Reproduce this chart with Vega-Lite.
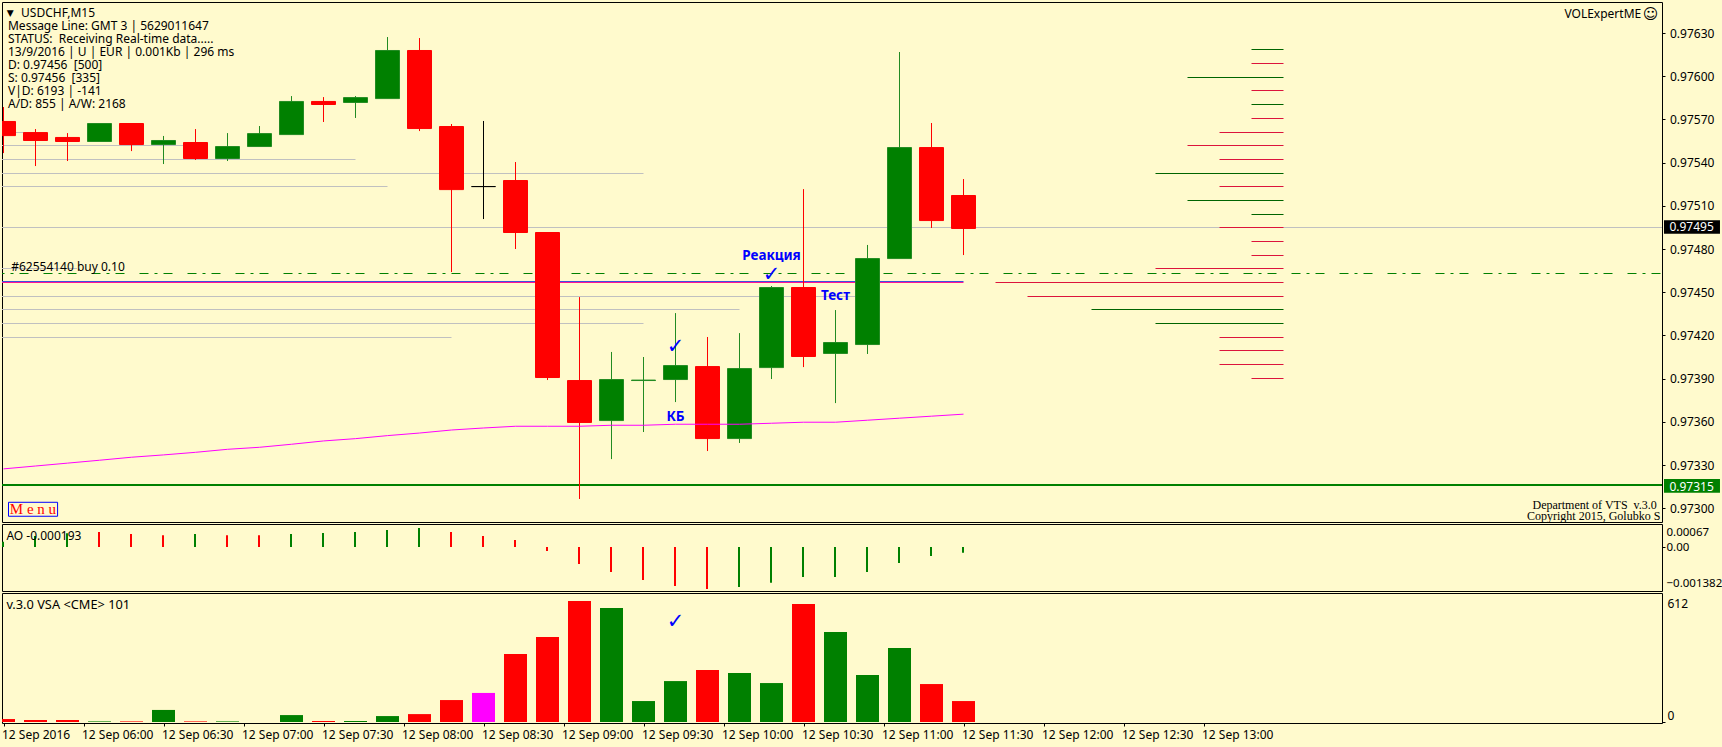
{"$schema":"https://vega.github.io/schema/vega-lite/v6.json","background":"#FFFACD","padding":{"left":1,"top":1,"right":1,"bottom":6},"spacing":0,"resolve":{"scale":{"color":"independent","fill":"independent","stroke":"independent"}},"config":{"view":{"stroke":"#000000","strokeWidth":1},"axis":{"grid":false,"domain":false,"tickColor":"#000000","tickSize":3,"labelFont":"Noto Sans","labelFontSize":12,"labelColor":"#000000","labelOverlap":false,"labelBound":false,"labelFlush":false,"title":null},"text":{"font":"Noto Sans","fontSize":12,"align":"left","baseline":"middle","color":"#000000"}},
"datasets":{
"candles":[
{"bar":0,"open":0.975689,"high":0.975786,"low":0.975466,"close":0.975591,"dir":"down"},
{"bar":1,"open":0.975612,"high":0.975633,"low":0.975376,"close":0.975557,"dir":"down"},
{"bar":2,"open":0.975578,"high":0.975605,"low":0.975411,"close":0.97555,"dir":"down"},
{"bar":3,"open":0.97555,"high":0.975675,"low":0.97555,"close":0.975675,"dir":"up"},
{"bar":4,"open":0.975675,"high":0.975675,"low":0.97548,"close":0.975529,"dir":"down"},
{"bar":5,"open":0.975529,"high":0.975585,"low":0.97539,"close":0.975557,"dir":"up"},
{"bar":6,"open":0.975543,"high":0.975633,"low":0.975418,"close":0.975432,"dir":"down"},
{"bar":7,"open":0.975432,"high":0.975605,"low":0.975411,"close":0.975515,"dir":"up"},
{"bar":8,"open":0.975515,"high":0.975654,"low":0.975515,"close":0.975605,"dir":"up"},
{"bar":9,"open":0.975598,"high":0.975862,"low":0.975598,"close":0.975828,"dir":"up"},
{"bar":10,"open":0.975828,"high":0.975855,"low":0.975682,"close":0.975807,"dir":"down"},
{"bar":11,"open":0.975821,"high":0.975862,"low":0.97571,"close":0.975855,"dir":"up"},
{"bar":12,"open":0.975848,"high":0.976272,"low":0.975848,"close":0.976182,"dir":"up"},
{"bar":13,"open":0.976182,"high":0.976265,"low":0.975619,"close":0.97564,"dir":"down"},
{"bar":14,"open":0.975654,"high":0.975668,"low":0.97464,"close":0.975216,"dir":"down"},
{"bar":15,"open":0.975237,"high":0.975689,"low":0.975008,"close":0.975237,"dir":"doji"},
{"bar":16,"open":0.975279,"high":0.975404,"low":0.9748,"close":0.974918,"dir":"down"},
{"bar":17,"open":0.974918,"high":0.974918,"low":0.97389,"close":0.973911,"dir":"down"},
{"bar":18,"open":0.97389,"high":0.974466,"low":0.973064,"close":0.973599,"dir":"down"},
{"bar":19,"open":0.973612,"high":0.974085,"low":0.973341,"close":0.973897,"dir":"up"},
{"bar":20,"open":0.97389,"high":0.97405,"low":0.973529,"close":0.973893,"dir":"up"},
{"bar":21,"open":0.973897,"high":0.974355,"low":0.973737,"close":0.973994,"dir":"up"},
{"bar":22,"open":0.973987,"high":0.974189,"low":0.973397,"close":0.973487,"dir":"down"},
{"bar":23,"open":0.973487,"high":0.974216,"low":0.973453,"close":0.973973,"dir":"up"},
{"bar":24,"open":0.97398,"high":0.974543,"low":0.973897,"close":0.974536,"dir":"up"},
{"bar":25,"open":0.974536,"high":0.975216,"low":0.97398,"close":0.974057,"dir":"down"},
{"bar":26,"open":0.974078,"high":0.974376,"low":0.97373,"close":0.974154,"dir":"up"},
{"bar":27,"open":0.97414,"high":0.974828,"low":0.974071,"close":0.974737,"dir":"up"},
{"bar":28,"open":0.974737,"high":0.976168,"low":0.974737,"close":0.975508,"dir":"up"},
{"bar":29,"open":0.975508,"high":0.975675,"low":0.974946,"close":0.975001,"dir":"down"},
{"bar":30,"open":0.975175,"high":0.975286,"low":0.974758,"close":0.974946,"dir":"down"}],
"ma":[{"bar":0,"price":0.973273},{"bar":1,"price":0.973293},{"bar":2,"price":0.973313},{"bar":3,"price":0.973333},{"bar":4,"price":0.973354},{"bar":5,"price":0.97337},{"bar":6,"price":0.973388},{"bar":7,"price":0.973409},{"bar":8,"price":0.973423},{"bar":9,"price":0.973444},{"bar":10,"price":0.973467},{"bar":11,"price":0.973483},{"bar":12,"price":0.973504},{"bar":13,"price":0.973522},{"bar":14,"price":0.973543},{"bar":15,"price":0.973557},{"bar":16,"price":0.973569},{"bar":17,"price":0.973569},{"bar":18,"price":0.973569},{"bar":19,"price":0.973576},{"bar":20,"price":0.973576},{"bar":21,"price":0.973583},{"bar":22,"price":0.973583},{"bar":23,"price":0.973583},{"bar":24,"price":0.97359},{"bar":25,"price":0.973597},{"bar":26,"price":0.973597},{"bar":27,"price":0.973611},{"bar":28,"price":0.973625},{"bar":29,"price":0.973639},{"bar":30,"price":0.973653}],
"grey":[{"price":0.97560902,"bar":-1,"end":1},{"price":0.97551875,"bar":-1,"end":6},{"price":0.97542152,"bar":-1,"end":11},{"price":0.9753243,"bar":-1,"end":20},{"price":0.97523402,"bar":-1,"end":12},{"price":0.9749493,"bar":-1,"end":60},{"price":0.97466458,"bar":-1,"end":2.3},{"price":0.97447013,"bar":-1,"end":27},{"price":0.97437986,"bar":-1,"end":23},{"price":0.97428263,"bar":-1,"end":20},{"price":0.97418541,"bar":-1,"end":14}],
"profile":[
{"price":0.97618541,"bar":39,"end":40,"side":"buy"},{"price":0.97608819,"bar":39,"end":40,"side":"sell"},{"price":0.97599097,"bar":37,"end":40,"side":"buy"},{"price":0.97590069,"bar":39,"end":40,"side":"sell"},{"price":0.97580347,"bar":39,"end":40,"side":"buy"},{"price":0.97570625,"bar":39,"end":40,"side":"sell"},{"price":0.97560902,"bar":38,"end":40,"side":"sell"},{"price":0.97551875,"bar":37,"end":40,"side":"sell"},{"price":0.97542152,"bar":38,"end":40,"side":"sell"},{"price":0.9753243,"bar":36,"end":40,"side":"buy"},{"price":0.97523402,"bar":38,"end":40,"side":"sell"},{"price":0.9751368,"bar":37,"end":40,"side":"buy"},{"price":0.97503958,"bar":39,"end":40,"side":"buy"},{"price":0.9749493,"bar":38,"end":40,"side":"sell"},{"price":0.97485208,"bar":39,"end":40,"side":"sell"},{"price":0.97475486,"bar":39,"end":40,"side":"sell"},{"price":0.97466458,"bar":36,"end":40,"side":"sell"},{"price":0.97456736,"bar":31,"end":40,"side":"sell"},{"price":0.97447013,"bar":32,"end":40,"side":"sell"},{"price":0.97437986,"bar":34,"end":40,"side":"buy"},{"price":0.97428263,"bar":36,"end":40,"side":"buy"},{"price":0.97418541,"bar":38,"end":40,"side":"sell"},{"price":0.97409513,"bar":38,"end":40,"side":"sell"},{"price":0.97399791,"bar":38,"end":40,"side":"sell"},{"price":0.97390069,"bar":39,"end":40,"side":"sell"}],
"header":[{"bar":0.55,"price":0.976441,"label":"USDCHF,M15"},{"bar":0.14,"price":0.976351,"label":"Message Line: GMT 3 | 5629011647"},{"bar":0.14,"price":0.97626,"label":"STATUS:\u00a0 Receiving Real-time data....."},{"bar":0.14,"price":0.97617,"label":"13/9/2016 | U | EUR | 0.001Kb | 296 ms"},{"bar":0.14,"price":0.97608,"label":"D: 0.97456\u00a0 [500]"},{"bar":0.14,"price":0.97599,"label":"S: 0.97456\u00a0 [335]"},{"bar":0.14,"price":0.9759,"label":"V|D: 6193 | -141"},{"bar":0.14,"price":0.97581,"label":"A/D: 855 | A/W: 2168"},{"bar":0.24,"price":0.974677,"label":"#62554140 buy 0.10"},{"bar":48.78,"price":0.976434,"label":"VOLExpertME"}],
"tagText":[{"bar":52.06,"price":0.97495,"label":"0.97495"},{"bar":52.06,"price":0.97315,"label":"0.97315"}],
"notes":[{"bar":24,"price":0.974751,"label":"Реакция"},{"bar":26,"price":0.974473,"label":"Тест"},{"bar":21,"price":0.973635,"label":"КБ"}],
"ao":[{"bar":0,"value":0.000175,"dir":"up"},{"bar":1,"value":0.00036,"dir":"up"},{"bar":2,"value":0.00045,"dir":"up"},{"bar":3,"value":0.00049,"dir":"down"},{"bar":4,"value":0.00043,"dir":"down"},{"bar":5,"value":0.00039,"dir":"down"},{"bar":6,"value":0.00043,"dir":"up"},{"bar":7,"value":0.00039,"dir":"down"},{"bar":8,"value":0.00039,"dir":"down"},{"bar":9,"value":0.00043,"dir":"up"},{"bar":10,"value":0.00046,"dir":"up"},{"bar":11,"value":0.00049,"dir":"up"},{"bar":12,"value":0.00056,"dir":"up"},{"bar":13,"value":0.000625,"dir":"up"},{"bar":14,"value":0.00049,"dir":"down"},{"bar":15,"value":0.00036,"dir":"down"},{"bar":16,"value":0.00023,"dir":"down"},{"bar":17,"value":-0.00013,"dir":"down"},{"bar":18,"value":-0.00056,"dir":"down"},{"bar":19,"value":-0.00082,"dir":"down"},{"bar":20,"value":-0.00109,"dir":"down"},{"bar":21,"value":-0.00128,"dir":"down"},{"bar":22,"value":-0.00138,"dir":"down"},{"bar":23,"value":-0.00132,"dir":"up"},{"bar":24,"value":-0.00118,"dir":"up"},{"bar":25,"value":-0.00099,"dir":"up"},{"bar":26,"value":-0.00099,"dir":"up"},{"bar":27,"value":-0.00082,"dir":"up"},{"bar":28,"value":-0.00053,"dir":"up"},{"bar":29,"value":-0.0003,"dir":"up"},{"bar":30,"value":-0.000193,"dir":"up"}],
"vsa":[{"bar":0,"value":15,"kind":"down"},{"bar":1,"value":10,"kind":"down"},{"bar":2,"value":10,"kind":"down"},{"bar":3,"value":3,"kind":"up"},{"bar":4,"value":3,"kind":"down"},{"bar":5,"value":61,"kind":"up"},{"bar":6,"value":3,"kind":"down"},{"bar":7,"value":3,"kind":"up"},{"bar":9,"value":35,"kind":"up"},{"bar":10,"value":5,"kind":"down"},{"bar":11,"value":5,"kind":"up"},{"bar":12,"value":30,"kind":"up"},{"bar":13,"value":40,"kind":"down"},{"bar":14,"value":111,"kind":"down"},{"bar":15,"value":147,"kind":"climax"},{"bar":16,"value":344,"kind":"down"},{"bar":17,"value":430,"kind":"down"},{"bar":18,"value":612,"kind":"down"},{"bar":19,"value":577,"kind":"up"},{"bar":20,"value":106,"kind":"up"},{"bar":21,"value":207,"kind":"up"},{"bar":22,"value":263,"kind":"down"},{"bar":23,"value":248,"kind":"up"},{"bar":24,"value":197,"kind":"up"},{"bar":25,"value":597,"kind":"down"},{"bar":26,"value":455,"kind":"up"},{"bar":27,"value":238,"kind":"up"},{"bar":28,"value":374,"kind":"up"},{"bar":29,"value":192,"kind":"down"},{"bar":30,"value":106,"kind":"down"}]
},
"vconcat":[
{"width":1660,"height":520,
"encoding":{"x":{"field":"bar","type":"quantitative","scale":{"domain":[-0.046875,51.828125],"zero":false,"nice":false,"padding":0},"axis":null},
"y":{"field":"price","type":"quantitative","scale":{"domain":[0.97290417,0.97651528],"zero":false,"nice":false},"axis":{"orient":"right","values":[0.9763,0.976,0.9757,0.9754,0.9751,0.9748,0.9745,0.9742,0.9739,0.9736,0.9733,0.973],"format":".5f","labelPadding":4.5}}},
"layer":[
{"data":{"name":"grey"},"mark":{"type":"rule","color":"#C0C0C0","strokeWidth":1,"clip":true},"encoding":{"x2":{"field":"end"}}},
{"data":{"name":"profile"},"mark":{"type":"rule","strokeWidth":1,"clip":true},"encoding":{"x2":{"field":"end"},"color":{"field":"side","type":"nominal","legend":null,"scale":{"domain":["buy","sell"],"range":["#006400","#DC143C"]}}}},
{"data":{"values":[{"price":0.9745743,"bar":-1,"end":30}]},"mark":{"type":"rule","color":"#3C50DC","strokeWidth":1,"clip":true},"encoding":{"x2":{"field":"end"}}},
{"data":{"values":[{"price":0.97456736,"bar":-1,"end":30}]},"mark":{"type":"rule","color":"#FF1493","strokeWidth":1,"clip":true},"encoding":{"x2":{"field":"end"}}},
{"data":{"values":[{"price":0.97462986,"bar":-1,"end":60}]},"mark":{"type":"rule","color":"#008000","strokeWidth":1,"strokeDash":[9,15,9,6,3,6],"clip":true},"encoding":{"x2":{"field":"end"}}},
{"data":{"values":[{"price":0.97316111,"bar":-1,"end":60}]},"mark":{"type":"rule","color":"#008000","strokeWidth":2,"clip":true},"encoding":{"x2":{"field":"end"}}},
{"data":{"name":"candles"},"mark":{"type":"rule","strokeWidth":1,"clip":true},"encoding":{"y":{"field":"high","type":"quantitative","title":null,"axis":{"orient":"right","values":[0.9763,0.976,0.9757,0.9754,0.9751,0.9748,0.9745,0.9742,0.9739,0.9736,0.9733,0.973],"format":".5f","labelPadding":4.5}},"y2":{"field":"low"},"stroke":{"field":"dir","type":"nominal","legend":null,"scale":{"domain":["up","down","doji"],"range":["#228B22","#FF0000","#000000"]}}}},
{"data":{"name":"candles"},"mark":{"type":"bar","width":24,"strokeWidth":1,"clip":true,"orient":"vertical","yOffset":0.5,"y2Offset":0.5},"encoding":{"y":{"field":"open","type":"quantitative","title":null,"stack":null,"axis":{"orient":"right","values":[0.9763,0.976,0.9757,0.9754,0.9751,0.9748,0.9745,0.9742,0.9739,0.9736,0.9733,0.973],"format":".5f","labelPadding":4.5}},"y2":{"field":"close"},"fill":{"field":"dir","type":"nominal","legend":null,"scale":{"domain":["up","down","doji"],"range":["#008000","#FF0000","#000000"]}},"stroke":{"field":"dir","type":"nominal","legend":null}}},
{"data":{"name":"ma"},"mark":{"type":"line","color":"#FF00FF","strokeWidth":1,"clip":true}},
{"data":{"name":"header"},"mark":{"type":"text"},"encoding":{"text":{"field":"label"}}},
{"data":{"values":[{"bar":0.1,"price":0.976441,"label":"▼"}]},"mark":{"type":"text","font":"DejaVu Sans","fontSize":9},"encoding":{"text":{"field":"label"}}},
{"data":{"values":[{"bar":51.47,"price":0.976434,"label":"☺"}]},"mark":{"type":"text","font":"DejaVu Sans","fontSize":15,"align":"center"},"encoding":{"text":{"field":"label"}}},
{"data":{"name":"notes"},"mark":{"type":"text","fontWeight":"bold","fontSize":13.5,"color":"#0000FF","align":"center"},"encoding":{"text":{"field":"label"}}},
{"data":{"values":[{"bar":21,"price":0.974121,"label":"✓"},{"bar":24,"price":0.974619,"label":"✓"}]},"mark":{"type":"text","font":"DejaVu Sans","fontWeight":"bold","fontSize":21,"color":"#0000FF","align":"center"},"encoding":{"text":{"field":"label"}}},
{"data":{"values":[{"bar":47.78,"price":0.973022,"label":"Department of VTS\u00a0 v.3.0"},{"bar":47.61,"price":0.972948,"label":"Copyright 2015, Golubko S"}]},"mark":{"type":"text","font":"Liberation Serif","fontSize":12,"clip":true},"encoding":{"text":{"field":"label"}}},
{"data":{"values":[{"bar":0.156,"end":1.69,"top":0.973041,"bottom":0.972944}]},"mark":{"type":"rect","filled":false,"stroke":"#0000FF","strokeWidth":1},"encoding":{"x2":{"field":"end"},"y":{"field":"top","type":"quantitative","title":null,"axis":{"orient":"right","values":[0.9763,0.976,0.9757,0.9754,0.9751,0.9748,0.9745,0.9742,0.9739,0.9736,0.9733,0.973],"format":".5f","labelPadding":4.5}},"y2":{"field":"bottom"}}},
{"data":{"values":[{"bar":0.92,"price":0.972994,"label":"M e n u"}]},"mark":{"type":"text","font":"Liberation Serif","fontSize":15,"color":"#FF0000","align":"center"},"encoding":{"text":{"field":"label"}}},
{"data":{"values":[{"bar":51.89,"end":53.64,"top":0.974999,"bottom":0.974906}]},"mark":{"type":"rect","color":"#000000"},"encoding":{"x2":{"field":"end"},"y":{"field":"top","type":"quantitative","title":null,"axis":{"orient":"right","values":[0.9763,0.976,0.9757,0.9754,0.9751,0.9748,0.9745,0.9742,0.9739,0.9736,0.9733,0.973],"format":".5f","labelPadding":4.5}},"y2":{"field":"bottom"}}},
{"data":{"values":[{"bar":51.89,"end":53.64,"top":0.973203,"bottom":0.973108}]},"mark":{"type":"rect","color":"#008000"},"encoding":{"x2":{"field":"end"},"y":{"field":"top","type":"quantitative","title":null,"axis":{"orient":"right","values":[0.9763,0.976,0.9757,0.9754,0.9751,0.9748,0.9745,0.9742,0.9739,0.9736,0.9733,0.973],"format":".5f","labelPadding":4.5}},"y2":{"field":"bottom"}}},
{"data":{"name":"tagText"},"mark":{"type":"text","color":"#FFFFFF"},"encoding":{"text":{"field":"label"}}}
]},
{"width":1660,"height":67,
"encoding":{"x":{"field":"bar","type":"quantitative","scale":{"domain":[-0.046875,51.828125],"zero":false,"nice":false,"padding":0},"axis":null},
"y":{"field":"value","type":"quantitative","scale":{"domain":[-0.001448,0.000757],"zero":false,"nice":false},"axis":{"orient":"right","values":[0.00067,0,-0.001382],"labelPadding":1,"labelFontSize":11.5,"labelExpr":"datum.value==0?'0.00':format(datum.value,datum.value>0?'.5f':'.6f')","labelOffset":{"condition":[{"test":"datum.value>0","value":6},{"test":"datum.value<0","value":-5}],"value":0},"tickOpacity":{"condition":{"test":"datum.value==0","value":1},"value":0}}}},
"layer":[
{"data":{"name":"ao"},"mark":{"type":"rule","strokeWidth":2,"xOffset":-0.5},"encoding":{"y2":{"datum":0},"color":{"field":"dir","type":"nominal","legend":null,"scale":{"domain":["up","down"],"range":["#008000","#FF0000"]}}}},
{"data":{"values":[{"bar":0.09,"value":0.000372,"label":"AO -0.000193"}]},"mark":{"type":"text"},"encoding":{"text":{"field":"label"}}}
]},
{"width":1660,"height":130,
"encoding":{"x":{"field":"bar","type":"quantitative","scale":{"domain":[-0.046875,51.828125],"zero":false,"nice":false,"padding":0},"axis":{"values":[0,2.5,5,7.5,10,12.5,15,17.5,20,22.5,25,27.5,30,32.5,35,37.5],"labelAlign":"left","labelPadding":3,"labelOffset":-2,"labelExpr":"['12 Sep 2016','12 Sep 06:00','12 Sep 06:30','12 Sep 07:00','12 Sep 07:30','12 Sep 08:00','12 Sep 08:30','12 Sep 09:00','12 Sep 09:30','12 Sep 10:00','12 Sep 10:30','12 Sep 11:00','12 Sep 11:30','12 Sep 12:00','12 Sep 12:30','12 Sep 13:00'][datum.value/2.5]"}},
"y":{"field":"value","type":"quantitative","scale":{"domain":[-5.06,652.5],"zero":false,"nice":false},"axis":{"orient":"right","values":[612,0],"labelPadding":2,"format":"d","labelOffset":{"condition":[{"test":"datum.value>0","value":2},{"test":"datum.value==0","value":-6}],"value":0},"tickOpacity":{"condition":{"test":"datum.value==0","value":1},"value":0}}}},
"layer":[
{"data":{"name":"vsa"},"mark":{"type":"bar","width":23,"clip":true,"orient":"vertical"},"encoding":{"y":{"field":"value","type":"quantitative","stack":null,"title":null,"axis":{"orient":"right","values":[612,0],"labelPadding":2,"format":"d","labelOffset":{"condition":[{"test":"datum.value>0","value":2},{"test":"datum.value==0","value":-6}],"value":0},"tickOpacity":{"condition":{"test":"datum.value==0","value":1},"value":0}}},"color":{"field":"kind","type":"nominal","legend":null,"scale":{"domain":["up","down","climax"],"range":["#008000","#FF0000","#FF00FF"]}}}},
{"data":{"values":[{"bar":0.09,"value":593,"label":"v.3.0 VSA <CME> 101"}]},"mark":{"type":"text","fontSize":12.8},"encoding":{"text":{"field":"label"}}},
{"data":{"values":[{"bar":21,"value":507,"label":"✓"}]},"mark":{"type":"text","font":"DejaVu Sans","fontWeight":"bold","fontSize":21,"color":"#0000FF","align":"center"},"encoding":{"text":{"field":"label"}}}
]}
]}
